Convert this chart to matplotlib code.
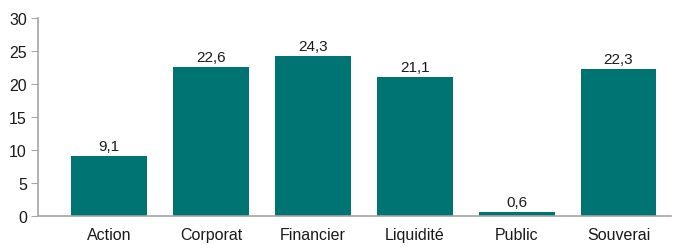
import matplotlib
matplotlib.use("Agg")
import matplotlib.pyplot as plt

categories = ["Action", "Corporat", "Financier", "Liquidité", "Public", "Souverai"]
values = [9.1, 22.6, 24.3, 21.1, 0.6, 22.3]
labels = ["9,1", "22,6", "24,3", "21,1", "0,6", "22,3"]

plt.rcParams['font.family'] = ['Liberation Sans', 'DejaVu Sans']

fig = plt.figure(figsize=(6.84, 2.51), dpi=100)
ax = fig.add_axes([0.0556, 0.1355, 0.926, 0.7885])
x = list(range(len(categories)))
bars = ax.bar(x, values, width=0.745, color="#007373")
for xi, v, lab in zip(x, values, labels):
    ax.text(xi, v + 0.4, lab, ha="center", va="bottom", fontsize=11, color="#1a1a1a")

ax.set_xlim(-0.7, 5.52)
ax.set_ylim(0, 30)
ax.set_yticks(range(0, 31, 5))
ax.set_xticks(x)
ax.set_xticklabels(categories)
for s in ["top", "right"]:
    ax.spines[s].set_visible(False)
for s in ["left", "bottom"]:
    ax.spines[s].set_color("#a6a6a6")
    ax.spines[s].set_linewidth(1.2)
ax.tick_params(axis="y", length=5, color="#a6a6a6", labelsize=11.5, labelcolor="#1a1a1a", pad=3)
ax.tick_params(axis="x", length=0, labelsize=11.5, labelcolor="#1a1a1a", pad=8)

fig.savefig("out.png", dpi=100)
